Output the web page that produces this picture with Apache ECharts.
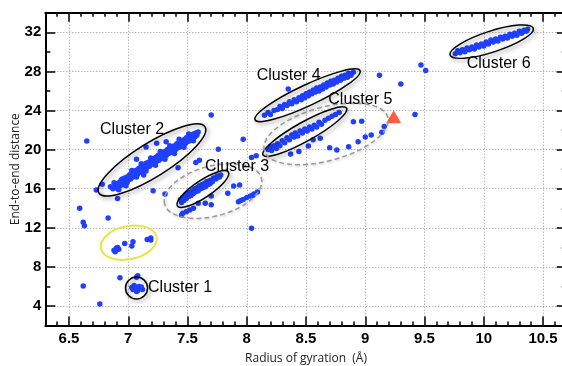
<!DOCTYPE html>
<html><head><meta charset="utf-8">
<script src="https://cdn.jsdelivr.net/npm/echarts@6/dist/echarts.min.js"></script>
<style>html,body{margin:0;padding:0;background:#fff}#c{width:562px;height:366px}</style>
</head><body><div id="c"></div>
<script>
const xTickValues = [6.5,7,7.5,8,8.5,9,9.5,10,10.5];
const xTickLabels = ['6.5','7','7.5','8','8.5','9','9.5','10','10.5'];
const yTickValues = [4,8,12,16,20,24,28,32];
const yTickLabels = ['4','8','12','16','20','24','28','32'];

const cluster1 = [[7.04,5.7],[7.06,5.9],[7.08,5.6],[7.10,5.8],[7.05,6.1],[7.09,6.0],[7.12,5.7],[7.07,5.5],[7.03,5.9],[7.11,5.95],[7.08,7.1],[7.07,6.95]];
const yellowGroup = [[6.88,9.7],[6.90,9.9],[6.92,9.8],[6.89,9.55],[6.91,10.0],[6.97,10.4],[7.03,10.14],[7.04,10.58],[7.16,10.8],[7.19,10.96],[7.19,10.75]];
const cluster2 = [[6.89,16.2],[6.90,16.5],[6.91,16.0],[6.92,16.6],[6.93,16.3],[6.94,16.9],[6.95,16.4],[6.96,16.7],[6.97,17.1],[6.98,16.6],[6.99,17.2],[7.00,16.9],[7.01,17.4],[7.02,17.0],[7.03,17.6],[7.04,17.2],[7.05,17.8],[7.06,17.4],[7.07,17.9],[7.08,17.5],[7.09,18.1],[7.10,17.7],[7.11,18.3],[7.12,17.8],[7.13,18.4],[7.14,18.0],[7.15,18.6],[7.16,18.2],[7.17,18.7],[7.18,18.3],[7.19,18.9],[7.20,18.5],[7.21,19.0],[7.22,18.6],[7.23,19.2],[7.24,18.8],[7.25,19.4],[7.26,18.9],[7.27,19.5],[7.28,19.1],[7.29,19.7],[7.30,19.3],[7.31,19.8],[7.32,19.4],[7.33,20.0],[7.34,19.6],[7.35,20.1],[7.36,19.7],[7.37,20.3],[7.38,19.9],[7.39,20.4],[7.40,20.0],[7.41,20.6],[7.42,20.2],[7.43,20.8],[7.44,20.3],[7.45,20.9],[7.46,20.5],[7.47,21.0],[7.48,20.6],[7.49,21.2],[7.50,20.8],[7.51,21.3],[7.52,20.9],[7.53,21.5],[7.54,21.1],[7.55,21.6],[7.56,21.3],[7.57,21.7],[7.58,21.5],[7.59,21.8],
[6.93,16.55],[6.97,16.85],[7.01,17.15],[7.05,17.45],[7.09,17.8],[7.13,18.1],[7.17,18.4],[7.21,18.7],[7.25,19.05],[7.29,19.35],[7.33,19.65],[7.37,19.95],[7.41,20.3],[7.45,20.6],[7.49,20.9],[7.53,21.2],[7.57,21.4],
[6.95,17.0],[7.03,17.85],[7.11,18.55],[7.19,19.15],[7.27,19.8],[7.35,20.4],[7.43,21.05],[7.51,21.6],
[6.99,16.6],[7.07,17.2],[7.15,17.8],[7.23,18.4],[7.31,19.0],[7.39,19.6],[7.47,20.25],[7.55,20.9],
[6.85,16.2],[6.87,16.0],[6.88,16.6],[6.92,15.9],[6.98,16.3]];
const cluster3 = [[7.44,14.9],[7.45,14.6],[7.46,15.1],[7.47,14.8],[7.48,15.3],[7.49,15.0],[7.50,15.5],[7.51,15.2],[7.52,15.6],[7.53,15.3],[7.54,15.8],[7.55,15.5],[7.56,16.0],[7.57,15.7],[7.58,16.1],[7.59,15.8],[7.60,16.3],[7.61,16.0],[7.62,16.4],[7.63,16.1],[7.64,16.5],[7.65,16.2],[7.66,16.7],[7.67,16.4],[7.68,16.8],[7.69,16.5],[7.70,16.9],[7.71,16.7],[7.72,17.1],[7.74,17.0],[7.75,17.3],[7.77,17.2],[7.78,17.4]];
const region3 = [[7.46,13.5],[7.49,13.65],[7.52,13.83],[7.45,13.3],[7.55,14.0],[7.59,14.5],[7.65,14.5],[7.70,15.26],[7.70,14.35],[7.84,15.53],[7.89,16.28],[7.94,16.38],[7.93,14.67],[7.97,14.9],[8.0,15.1],[8.03,15.26],[8.06,15.46],[8.09,15.67],[7.95,14.8],[8.05,15.3]];
const cluster4 = [[8.15,23.5],[8.18,23.8],[8.20,23.6],[8.23,24.0],[8.26,24.1],[8.28,24.4],[8.30,24.2],[8.32,24.6],[8.34,24.5],[8.36,24.9],[8.38,24.7],[8.40,25.1],[8.42,24.9],[8.44,25.3],[8.46,25.1],[8.47,25.5],[8.49,25.3],[8.50,25.7],[8.52,25.5],[8.53,25.9],[8.55,25.7],[8.56,26.1],[8.58,25.9],[8.59,26.3],[8.61,26.0],[8.62,26.4],[8.64,26.2],[8.65,26.6],[8.67,26.4],[8.68,26.8],[8.70,26.6],[8.71,27.0],[8.73,26.7],[8.74,27.1],[8.76,26.9],[8.77,27.3],[8.79,27.1],[8.80,27.5],[8.82,27.3],[8.83,27.6],[8.85,27.4],[8.86,27.8],[8.88,27.6],[8.90,27.9],
[8.45,25.2],[8.51,25.6],[8.57,26.0],[8.63,26.35],[8.69,26.7],[8.75,27.05],[8.81,27.4],[8.87,27.7]];
const cluster5 = [[8.18,20.0],[8.20,20.3],[8.21,19.9],[8.23,20.4],[8.25,20.1],[8.26,20.6],[8.28,20.4],[8.30,20.9],[8.32,20.7],[8.34,21.2],[8.36,21.0],[8.38,21.5],[8.40,21.3],[8.41,21.7],[8.43,21.4],[8.45,21.9],[8.47,21.7],[8.49,22.1],[8.51,21.9],[8.53,22.3],[8.55,22.1],[8.57,22.5],[8.59,22.3],[8.61,22.8],[8.63,22.6],[8.66,23.0],[8.69,23.2],[8.72,23.4],[8.75,23.6],[8.78,23.8]];
const region5 = [[8.9,22.86],[8.97,22.9],[8.86,20.3],[8.76,19.96],[8.94,20.8],[9.0,21.3],[9.05,21.5],[8.62,21.16],[8.56,21.0],[8.52,20.37],[8.37,19.55],[9.14,21.78],[9.16,22.35],[8.44,19.8],[8.70,20.2]];
const cluster6 = [[9.76,29.8],[9.78,30.1],[9.80,29.9],[9.82,30.2],[9.84,30.0],[9.86,30.4],[9.88,30.2],[9.90,30.5],[9.92,30.3],[9.94,30.7],[9.96,30.5],[9.98,30.8],[10.00,30.6],[10.02,31.0],[10.04,30.8],[10.06,31.2],[10.08,31.0],[10.10,31.3],[10.12,31.1],[10.14,31.5],[10.16,31.3],[10.18,31.6],[10.20,31.4],[10.22,31.8],[10.24,31.6],[10.26,31.9],[10.28,31.7],[10.30,32.1],[10.32,31.9],[10.34,32.2],[10.36,32.1],[10.37,32.3],
[9.85,30.2],[9.93,30.5],[10.01,30.8],[10.09,31.15],[10.17,31.45],[10.25,31.75],[10.33,32.05]];
const scattered = [[6.65,20.88],[7.15,20.27],[7.24,20.65],[7.32,20.8],[7.07,19.0],[7.13,17.4],[7.42,18.15],[7.57,18.67],[7.60,18.9],[8.35,26.2],[7.70,23.55],[7.97,21.06],[7.76,20.04],[8.04,19.2],[8.08,19.38],[9.12,27.6],[9.30,26.7],[9.47,28.66],[9.51,28.08],[9.42,23.6],[8.04,11.95],[6.76,4.2],[6.62,6.05],[6.93,6.9],[6.59,14.0],[6.62,12.57],[6.63,12.2],[6.83,13.0],[6.73,15.87],[6.91,15.0],[6.78,16.45],[7.21,15.8],[7.31,15.46]];
const redMarker = [[9.24,23.37]];

const labelTexts = ['Cluster 1','Cluster 2','Cluster 3','Cluster 4','Cluster 5','Cluster 6'];
const labelAnchors = [[7.167,5.85],[6.762,22.01],[7.648,18.22],[8.084,27.53],[8.688,25.08],[9.856,28.83]];

// annotation ellipses: [centerX, centerY, majorEndX, majorEndY, minor/major ratio]
const solidEllipses = [[7.07,5.85,7.163,5.85,1.0],[7.20,18.94,7.648,22.32,0.27],[7.63,15.97,7.845,17.71,0.28],[8.513,25.56,8.956,28.08,0.18],[8.49,21.84,8.843,24.23,0.2],[10.067,31.04,10.418,32.41,0.24]];
const dashedEllipses = [[7.715,15.76,8.123,17.09,0.5],[8.669,21.6,9.19,23.3,0.42]];
const yellowEllipses = [[7.004,10.48,7.239,11.08,0.58]];

const BLUE = '#2040ff';
const xGridColors = ['rgba(0,0,0,0)','rgba(0,0,0,0)','#999','rgba(0,0,0,0)','rgba(0,0,0,0)'];
const yGridColors = ['rgba(0,0,0,0)','#999'];

const chart = echarts.init(document.getElementById('c'), null, {renderer:'canvas'});
const xBase = {type:'value', min:6.3, max:10.7, interval:0.1, gridIndex:0};
const yBase = {type:'value', min:2, max:34, interval:2, gridIndex:0};
const tickStyle = {color:'#000', width:1.5};
const lineStyleAxis = {color:'#000', width:2};
const tickFont = {fontFamily:'Liberation Sans', fontWeight:'bold', fontSize:15, color:'#000'};

function lookup(vals, labels, v){ const i = vals.findIndex(t => Math.abs(t - v) < 1e-6); return i >= 0 ? labels[i] : ''; }

function ellipseSeries(data, style){
  return {type:'custom', xAxisIndex:0, yAxisIndex:0, data, clip:false, z:5, silent:true,
    renderItem(params, api){
      const c = api.coord([api.value(0), api.value(1)]);
      const e = api.coord([api.value(2), api.value(3)]);
      const dx = e[0]-c[0], dy = e[1]-c[1];
      const rx = Math.hypot(dx, dy), ry = rx * api.value(4);
      return {type:'ellipse', x:c[0], y:c[1], rotation:-Math.atan2(dy, dx),
        shape:{cx:0, cy:0, rx, ry}, style:Object.assign({fill:'none'}, style)};
    }};
}
function scatterSeries(data){
  return {type:'scatter', xAxisIndex:0, yAxisIndex:0, data, symbol:'circle', symbolSize:5.5,
    itemStyle:{color:BLUE, opacity:1}, z:3, silent:true};
}

chart.setOption({
  animation:false,
  grid:{left:45.3, top:12.7, width:521.4, height:312.9, containLabel:false, outerBoundsMode:'none'},
  xAxis:[
    Object.assign({}, xBase, {position:'bottom',
      axisLine:{show:true, onZero:false, lineStyle:lineStyleAxis},
      axisTick:{show:true, inside:true, length:4, lineStyle:tickStyle},
      axisLabel:Object.assign({show:true, margin:6, formatter:v => lookup(xTickValues, xTickLabels, v)}, tickFont),
      splitLine:{show:true, showMinLine:true, showMaxLine:true, lineStyle:{color:xGridColors, type:[1,2], width:1}},
      name:'Radius of gyration  (Å)', nameLocation:'middle', nameGap:27, nameMoveOverlap:false,
      nameTextStyle:{fontFamily:'Open Sans', fontSize:12, color:'#222'}}),
    Object.assign({}, xBase, {position:'bottom', axisLine:{show:false},
      axisTick:{show:true, inside:true, length:9, customValues:xTickValues, lineStyle:tickStyle},
      axisLabel:{show:false}, splitLine:{show:false}}),
    Object.assign({}, xBase, {position:'top', axisLine:{show:true, onZero:false, lineStyle:lineStyleAxis},
      axisTick:{show:true, inside:true, length:4, lineStyle:tickStyle}, axisLabel:{show:false}, splitLine:{show:false}}),
    Object.assign({}, xBase, {position:'top', axisLine:{show:false},
      axisTick:{show:true, inside:true, length:9, customValues:xTickValues, lineStyle:tickStyle},
      axisLabel:{show:false}, splitLine:{show:false}})
  ],
  yAxis:[
    Object.assign({}, yBase, {position:'left',
      axisLine:{show:true, onZero:false, lineStyle:lineStyleAxis},
      axisTick:{show:true, inside:true, length:5, lineStyle:tickStyle},
      axisLabel:Object.assign({show:true, margin:4, formatter:v => lookup(yTickValues, yTickLabels, v)}, tickFont),
      splitLine:{show:true, showMinLine:true, showMaxLine:true, lineStyle:{color:yGridColors, type:[1,2], width:1}},
      name:'End-to-end distance', nameLocation:'middle', nameGap:24, nameMoveOverlap:false,
      nameTextStyle:{fontFamily:'Open Sans', fontSize:12, color:'#222'}}),
    Object.assign({}, yBase, {position:'left', axisLine:{show:false},
      axisTick:{show:true, inside:true, length:10, customValues:yTickValues, lineStyle:tickStyle},
      axisLabel:{show:false}, splitLine:{show:false}}),
    Object.assign({}, yBase, {position:'right', axisLine:{show:true, onZero:false, lineStyle:lineStyleAxis},
      axisTick:{show:true, inside:true, length:5, lineStyle:tickStyle}, axisLabel:{show:false}, splitLine:{show:false}}),
    Object.assign({}, yBase, {position:'right', axisLine:{show:false},
      axisTick:{show:true, inside:true, length:10, customValues:yTickValues, lineStyle:tickStyle},
      axisLabel:{show:false}, splitLine:{show:false}})
  ],
  series:[
    scatterSeries(cluster1), scatterSeries(yellowGroup), scatterSeries(cluster2),
    scatterSeries(cluster3), scatterSeries(region3), scatterSeries(cluster4),
    scatterSeries(cluster5), scatterSeries(region5), scatterSeries(cluster6), scatterSeries(scattered),
    {type:'scatter', xAxisIndex:0, yAxisIndex:0, data:redMarker, symbol:'triangle', symbolSize:[15,13],
      itemStyle:{color:'#ff3311'}, z:4, silent:true},
    ellipseSeries(solidEllipses, {stroke:'#000', lineWidth:1.5, shadowBlur:4, shadowColor:'rgba(0,0,0,0.45)', shadowOffsetX:2, shadowOffsetY:2}),
    ellipseSeries(dashedEllipses, {stroke:'#999', lineWidth:1.5, lineDash:[5,3], shadowBlur:3, shadowColor:'rgba(0,0,0,0.25)', shadowOffsetX:1, shadowOffsetY:1}),
    ellipseSeries(yellowEllipses, {stroke:'#e6e640', lineWidth:2}),
    {type:'custom', xAxisIndex:0, yAxisIndex:0, data:labelAnchors, clip:false, z:6, silent:true,
      renderItem(params, api){
        const p = api.coord([api.value(0), api.value(1)]);
        return {type:'text', x:p[0], y:p[1], style:{text:labelTexts[params.dataIndex], fill:'#000',
          font:'16px "Liberation Sans"', textAlign:'left', textVerticalAlign:'middle'}};
      }}
  ]
});
</script></body></html>
